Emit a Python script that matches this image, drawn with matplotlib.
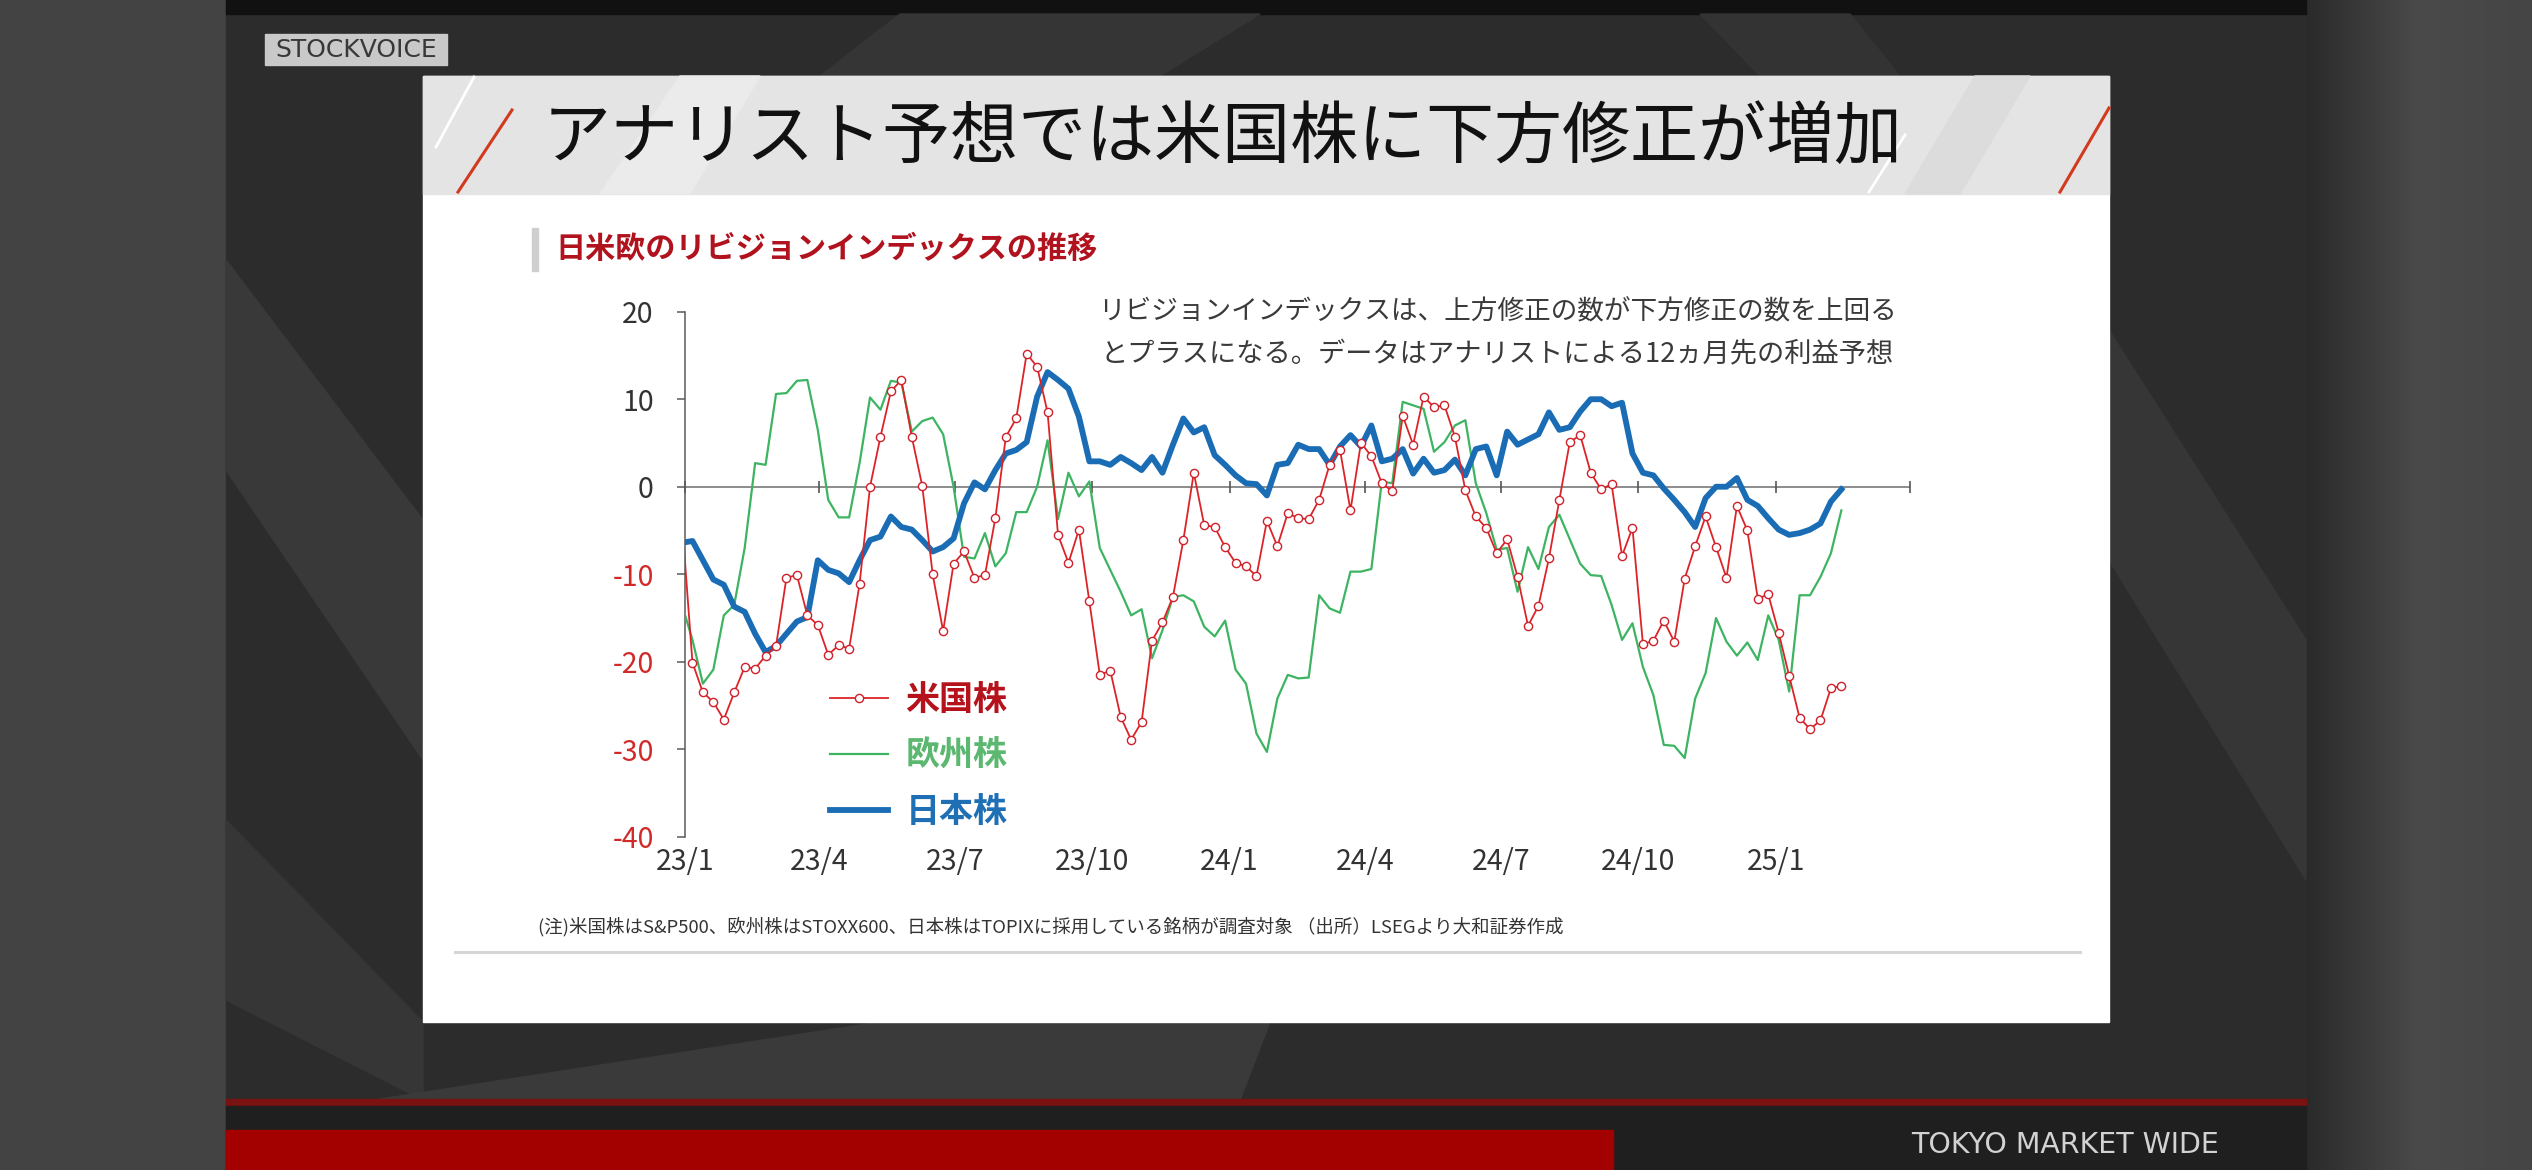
import matplotlib
matplotlib.use('Agg')
import matplotlib.pyplot as plt
from matplotlib.patches import Rectangle, Polygon
from matplotlib import font_manager
import numpy as np

plt.rcParams['font.family'] = ['Noto Sans CJK JP', 'DejaVu Sans']

W, H = 2532, 1170

# 週次データ(金曜日)、2022/12/30 から
start_date = '2022-12-30'

us = [-4.0, -20.1, -23.5, -24.6, -26.6, -23.5, -20.6, -20.8, -19.3, -18.2,
      -10.4, -10.1, -14.7, -15.8, -19.2, -18.1, -18.5, -11.1, 0.0, 5.7,
      10.9, 12.2, 5.7, 0.1, -10.0, -16.5, -8.8, -7.4, -10.4, -10.1,
      -3.6, 5.7, 7.8, 15.2, 13.7, 8.5, -5.5, -8.7, -4.9, -13.1,
      -21.5, -21.0, -26.3, -28.9, -26.9, -17.6, -15.5, -12.6, -6.1, 1.6,
      -4.4, -4.6, -6.9, -8.7, -9.1, -10.2, -3.9, -6.8, -3.0, -3.6,
      -3.7, -1.5, 2.5, 4.2, -2.7, 5.0, 3.5, 0.4, -0.5, 8.1,
      4.8, 10.3, 9.1, 9.3, 5.7, -0.4, -3.4, -4.7, -7.6, -6.0,
      -10.3, -15.9, -13.6, -8.2, -1.5, 5.1, 5.9, 1.6, -0.3, 0.3,
      -7.9, -4.7, -18.0, -17.6, -15.3, -17.7, -10.5, -6.8, -3.4, -6.9,
      -10.4, -2.2, -5.0, -12.8, -12.3, -16.7, -21.6, -26.4, -27.7, -26.7,
      -23.0, -22.8]

eu = [-13.5, -17.5, -22.5, -20.9, -14.7, -13.5, -7.0, 2.7, 2.5, 10.6,
      10.7, 12.1, 12.2, 6.5, -1.5, -3.5, -3.5, 2.7, 10.2, 8.8,
      12.1, 11.9, 6.3, 7.5, 7.9, 6.0, 0.0, -8.0, -8.2, -5.3,
      -9.1, -7.6, -2.9, -2.9, 0.0, 5.3, -3.7, 1.6, -1.1, 0.6,
      -7.0, -9.5, -12.0, -14.7, -14.0, -19.6, -16.4, -12.6, -12.4, -13.1,
      -16.0, -17.1, -15.3, -20.9, -22.5, -28.2, -30.3, -24.2, -21.5, -21.9,
      -21.8, -12.4, -13.9, -14.4, -9.7, -9.7, -9.4, 0.6, 0.4, 9.7,
      9.3, 8.9, 4.0, 5.1, 7.0, 7.6, 0.4, -3.0, -7.2, -7.0,
      -12.0, -6.9, -9.4, -4.6, -3.2, -6.0, -8.8, -10.1, -10.2, -13.5,
      -17.5, -15.6, -20.6, -23.8, -29.5, -29.6, -31.0, -24.2, -21.3, -15.0,
      -17.7, -19.3, -17.8, -19.8, -14.7, -17.5, -23.4, -12.4, -12.4, -10.3,
      -7.6, -2.7]

jp = [-6.4, -6.2, -8.4, -10.6, -11.2, -13.7, -14.3, -16.8, -18.9, -18.2,
      -16.8, -15.4, -14.9, -8.4, -9.5, -9.9, -10.9, -8.4, -6.1, -5.7,
      -3.4, -4.6, -4.9, -6.1, -7.4, -6.9, -5.9, -1.9, 0.5, -0.3,
      1.9, 3.8, 4.2, 5.1, 10.3, 13.1, 12.2, 11.2, 8.0, 2.9,
      2.9, 2.5, 3.4, 2.7, 1.9, 3.4, 1.6, 4.8, 7.8, 6.2,
      6.8, 3.6, 2.5, 1.3, 0.4, 0.3, -1.0, 2.5, 2.7, 4.8,
      4.3, 4.3, 2.5, 4.6, 5.9, 4.6, 7.0, 2.9, 3.2, 4.3,
      1.5, 3.2, 1.6, 1.9, 3.1, 1.3, 4.3, 4.6, 1.3, 6.3,
      4.8, 5.4, 6.0, 8.5, 6.5, 6.8, 8.6, 10.0, 10.0, 9.2,
      9.6, 3.8, 1.6, 1.3, -0.2, -1.5, -2.9, -4.6, -1.3, 0.0,
      0.0, 1.0, -1.5, -2.2, -3.6, -4.9, -5.5, -5.3, -4.9, -4.2,
      -1.7, -0.3]

series_names = ['米国株', '欧州株', '日本株']

tick_dates = ['2023-01-01', '2023-04-01', '2023-07-01', '2023-10-01',
              '2024-01-01', '2024-04-01', '2024-07-01', '2024-10-01',
              '2025-01-01', '2025-04-01']
tick_labels = ['23/1', '23/4', '23/7', '23/10', '24/1', '24/4', '24/7',
               '24/10', '25/1', '']
y_ticks = [-40, -30, -20, -10, 0, 10, 20]
y_labels = ['-40', '-30', '-20', '-10', '0', '10', '20']

title = 'アナリスト予想では米国株に下方修正が増加'
subtitle = '日米欧のリビジョンインデックスの推移'
note_lines = ['リビジョンインデックスは、上方修正の数が下方修正の数を上回る',
              'とプラスになる。データはアナリストによる12ヵ月先の利益予想']
footnote = '(注)米国株はS&P500、欧州株はSTOXX600、日本株はTOPIXに採用している銘柄が調査対象 （出所）LSEGより大和証券作成'

dates = np.datetime64(start_date) + np.arange(len(us)) * np.timedelta64(7, 'D')
tick_pos = np.array(tick_dates, dtype='datetime64[D]')

installed = {f.name for f in font_manager.fontManager.ttflist}
has_narrow = 'Liberation Sans Narrow' in installed


def fx(x):
    return x / W


def fy(y):
    return 1 - y / H


fig = plt.figure(figsize=(W / 100, H / 100), dpi=100)

# 背景(テレビ画面)
bg = fig.add_axes([0, 0, 1, 1], zorder=0)
bg.set_xlim(0, W)
bg.set_ylim(H, 0)
bg.axis('off')

bg.add_patch(Rectangle((0, 0), 226, H, color='#434343'))
grad = np.linspace(0, 1, 64).reshape(1, -1)
bg.imshow(grad, extent=(2306, W, H, 0), cmap=matplotlib.colors.LinearSegmentedColormap.from_list(
    'g', ['#2a2a2a', '#4a4a4a', '#454545']), aspect='auto', zorder=1)
bg.add_patch(Rectangle((226, 0), 2080, H, color='#2c2c2c', zorder=1))
bg.add_patch(Rectangle((226, 0), 2080, 14, color='#111111', zorder=2))

# 斜めの模様
for pts, c in [
    ([(226, 260), (423, 520), (423, 760), (226, 470)], '#393939'),
    ([(226, 820), (423, 1022), (423, 1100), (226, 1000)], '#363636'),
    ([(374, 1100), (880, 1022), (1270, 1022), (1240, 1100)], '#3a3a3a'),
    ([(2109, 330), (2306, 640), (2306, 880), (2109, 560)], '#363636'),
    ([(900, 14), (1260, 14), (1160, 76), (820, 76)], '#353535'),
    ([(1700, 14), (1850, 14), (1900, 76), (1760, 76)], '#333333'),
]:
    bg.add_patch(Polygon(pts, closed=True, color=c, zorder=2))

bg.add_patch(Rectangle((226, 1099), 2080, 7, color='#7a1212', zorder=3))
bg.add_patch(Rectangle((226, 1106), 2080, 64, color='#1f1f1f', zorder=3))
bg.add_patch(Rectangle((226, 1130), 1387, 40, color='#a30000', zorder=4))
bg.text(2219, 1145, 'TOKYO MARKET WIDE', color='#d2d2d2', fontsize=20.5,
        family='DejaVu Sans', ha='right', va='center', zorder=5)

# STOCKVOICE ロゴ
bg.add_patch(Rectangle((265, 34), 182, 31, color='#c9c9c9', zorder=4))
if has_narrow:
    bg.text(356, 50, 'STOCKVOICE', color='#383838', fontsize=21,
            family='Liberation Sans Narrow', ha='center', va='center', zorder=5)
else:
    bg.text(356, 50, 'STOCKVOICE', color='#383838', fontsize=18,
            family='DejaVu Sans', ha='center', va='center', zorder=5)

# スライド本体
bg.add_patch(Rectangle((423, 76), 1686, 946, color='white', zorder=4))
bg.add_patch(Rectangle((423, 76), 1686, 118, color='#e4e4e4', zorder=5))
bg.add_patch(Polygon([(600, 194), (690, 194), (760, 76), (680, 76)],
                     closed=True, color='#ebebeb', zorder=5))
bg.add_patch(Polygon([(1905, 194), (1960, 194), (2030, 76), (1975, 76)],
                     closed=True, color='#dcdcdc', zorder=5))
bg.plot([436, 474], [147, 77], color='white', lw=2, zorder=6)
bg.plot([1869, 1905], [192, 135], color='white', lw=2, zorder=6)
bg.plot([458, 512], [192, 110], color='#d23a1e', lw=2.2, zorder=6)
bg.plot([2060, 2109], [192, 108], color='#d23a1e', lw=2.2, zorder=6)
bg.text(543, 139, title, fontsize=49, color='#111111', ha='left',
        va='center', zorder=7)

bg.add_patch(Rectangle((532, 228), 6, 43, color='#cfcfcf', zorder=6))
bg.text(555, 249, subtitle, fontsize=21.7, color='#b0121e', weight='bold',
        ha='left', va='center', zorder=7)

bg.text(1497, 312, note_lines[0], fontsize=19.2, color='#3a3a3a',
        ha='center', va='center', zorder=7)
bg.text(1497, 355, note_lines[1], fontsize=19.6, color='#3a3a3a',
        ha='center', va='center', zorder=7)

bg.text(538, 927, footnote, fontsize=13.3, color='#333333', ha='left',
        va='center', zorder=7)
bg.plot([455, 2080], [952, 952], color='#d6d6d6', lw=2.2, zorder=6)

# グラフ
ax = fig.add_axes([fx(685), fy(836.8), (1910 - 685) / W, (836.8 - 311.7) / H], zorder=2)
ax.set_facecolor('none')

l_eu, = ax.plot(dates, eu, color='#3db462', lw=1.6, zorder=3)
l_jp, = ax.plot(dates, jp, color='#1a6db5', lw=4.2, zorder=4,
                solid_joinstyle='round')
l_us, = ax.plot(dates, us, color='#dc2428', lw=1.3, marker='o', ms=5.9,
                mfc='white', mec='#d0202a', mew=1.0, zorder=5,
                markevery=slice(1, None))

ax.set_xlim(tick_pos[0], tick_pos[-1])
ax.set_ylim(-40, 20)

ax.axhline(0, color='#6e6e6e', lw=1.1, zorder=2)
ax.plot(tick_pos, np.zeros(len(tick_pos)), ls='none', marker='|', ms=8,
        mew=1.2, color='#555555', clip_on=False, zorder=2)

for s in ['top', 'right', 'bottom']:
    ax.spines[s].set_visible(False)
ax.spines['left'].set_color('#5a5a5a')
ax.spines['left'].set_linewidth(1.1)

ax.set_yticks(y_ticks)
ax.set_yticklabels(y_labels)
ax.tick_params(axis='y', direction='out', length=5.5, width=1.1,
               color='#5a5a5a', pad=17, labelsize=20.5)
for t, v in zip(ax.get_yticklabels(), y_ticks):
    t.set_color('#d02a2a' if v < 0 else '#333333')

ax.set_xticks(tick_pos)
ax.set_xticklabels(tick_labels)
ax.tick_params(axis='x', length=0, pad=7, labelsize=20.5, labelcolor='#333333')

leg = ax.legend([l_us, l_eu, l_jp], series_names, loc='upper left',
                bbox_to_anchor=(fx(830), fy(682)), bbox_transform=fig.transFigure,
                frameon=False, prop={'weight': 'bold', 'size': 24.5},
                handlelength=1.7, handletextpad=0.52, labelspacing=0.62,
                borderpad=0, borderaxespad=0)
for t, c in zip(leg.get_texts(), ['#b5121b', '#5cb870', '#1f6fb5']):
    t.set_color(c)

fig.savefig('out.png', dpi=100)
